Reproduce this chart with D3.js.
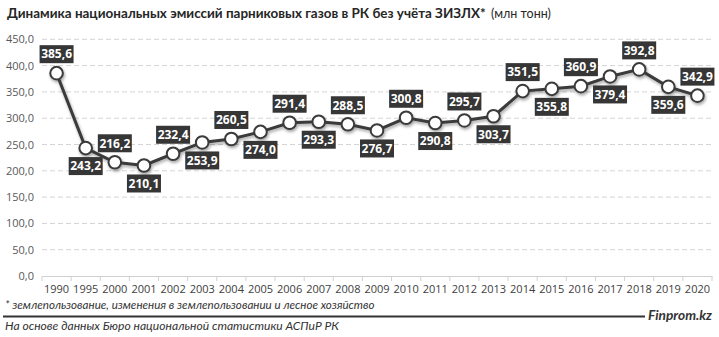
<!DOCTYPE html>
<html><head><meta charset="utf-8">
<script src="https://cdn.jsdelivr.net/npm/d3@7"></script>
<style>body{margin:0;background:#fff;}svg{display:block;}</style>
</head><body>
<script>
const years = ["1990","1995","2000","2001","2002","2003","2004","2005","2006","2007","2008","2009","2010","2011","2012","2013","2014","2015","2016","2017","2018","2019","2020"];
const values = [385.6,243.2,216.2,210.1,232.4,253.9,260.5,274.0,291.4,293.3,288.5,276.7,300.8,290.8,295.7,303.7,351.5,355.8,360.9,379.4,392.8,359.6,342.9];
const yTicks = [0,50,100,150,200,250,300,350,400,450];
const titleBold = "Динамика национальных эмиссий парниковых газов в РК без учёта ЗИЗЛХ*";
const titleNormal = "(млн тонн)";
const footnote = "* землепользование, изменения в землепользовании и лесное хозяйство";
const source = "На основе данных Бюро национальной статистики АСПиР РК";
const brand = "Finprom.kz";

const W = 719, H = 337;
const svg = d3.select("body").append("svg").attr("width", W).attr("height", H);
const fmt = v => v.toFixed(1).replace(".", ",");
const font = "'Open Sans', sans-serif";
const font2 = "Lato, 'Open Sans', sans-serif";

function fit(sel, target) {
  const s = +sel.attr("font-size");
  const w = sel.node().getComputedTextLength();
  sel.attr("font-size", (s * target / w).toFixed(2));
  return sel;
}

const x = d3.scaleBand().domain(years).range([42, 712]);
const y = d3.scaleLinear().domain([0, 450]).range([276, 39.3]);

const defs = svg.append("defs");
const f = defs.append("filter").attr("id","sh").attr("x","-20%").attr("y","-20%").attr("width","140%").attr("height","160%");
f.append("feDropShadow").attr("dx",1).attr("dy",2).attr("stdDeviation",1.6).attr("flood-color","#000").attr("flood-opacity",0.35);

// title
fit(svg.append("text").attr("x", 7).attr("y", 18).attr("font-family", font2).attr("font-size", 14).attr("font-weight", 700)
  .attr("fill", "#262626").text(titleBold), 479);
fit(svg.append("text").attr("x", 491).attr("y", 18).attr("font-family", font2).attr("font-size", 14).attr("font-weight", 400)
  .attr("fill", "#262626").text(titleNormal), 60);

// grid
svg.append("g").selectAll("line").data(yTicks.filter(d => d > 0)).join("line")
  .attr("x1", 42).attr("x2", 712).attr("y1", d => y(d)).attr("y2", d => y(d))
  .attr("stroke", "#d4d4d4").attr("stroke-width", 1).attr("stroke-dasharray", "5,3");

// y axis labels
const yAxis = svg.append("g").attr("transform", "translate(34,0)")
  .call(d3.axisLeft(y).tickValues(yTicks).tickFormat(fmt).tickSize(0).tickPadding(0));
yAxis.select(".domain").remove();
yAxis.selectAll("text").attr("font-family", font).attr("font-size", 11).attr("fill", "#595959");

// x axis
const xAxis = svg.append("g").attr("transform", "translate(0,276)")
  .call(d3.axisBottom(x).tickSize(0).tickPadding(9));
xAxis.select(".domain").attr("stroke", "#d0d0d0");
xAxis.selectAll("text").attr("font-family", font).attr("font-size", 11).attr("fill", "#404040");
xAxis.append("g").selectAll("line").data(years.concat(["end"])).join("line")
  .attr("x1", (d,i) => 42 + i * x.step()).attr("x2", (d,i) => 42 + i * x.step())
  .attr("y1", 0).attr("y2", 5).attr("stroke", "#d0d0d0");

// line
const line = d3.line().x((d,i) => x(years[i]) + x.bandwidth()/2).y(d => y(d));
const g = svg.append("g").attr("filter", "url(#sh)");
g.append("path").datum(values).attr("d", line).attr("fill", "none").attr("stroke", "#3a3a3a").attr("stroke-width", 3);
g.selectAll("circle").data(values).join("circle")
  .attr("cx", (d,i) => x(years[i]) + x.bandwidth()/2).attr("cy", d => y(d)).attr("r", 6.3)
  .attr("fill", "#fff").attr("stroke", "#3a3a3a").attr("stroke-width", 2);

// labels
const lg = svg.append("g");
values.forEach((v, i) => {
  const cx = x(years[i]) + x.bandwidth()/2;
  const cy = y(v) + (i % 2 === 0 ? -19 : 18);
  const bw = 34, bh = 18;
  lg.append("rect").attr("x", cx - bw/2).attr("y", cy - bh/2).attr("width", bw).attr("height", bh).attr("fill", "#363636");
  lg.append("text").attr("x", cx).attr("y", cy + 4.3).attr("text-anchor", "middle")
    .attr("font-family", font).attr("font-size", 12).attr("font-weight", 700).attr("fill", "#fff").text(fmt(v));
});

// footer
fit(svg.append("text").attr("x", 5).attr("y", 309).attr("font-family", font2).attr("font-style", "italic")
  .attr("font-size", 12).attr("fill", "#333").text(footnote), 370);
svg.append("line").attr("x1", 3).attr("x2", 645).attr("y1", 316.5).attr("y2", 316.5).attr("stroke", "#333").attr("stroke-width", 2);
fit(svg.append("text").attr("x", 712).attr("y", 320).attr("text-anchor", "end").attr("font-family", font2).attr("font-style", "italic")
  .attr("font-weight", 700).attr("font-size", 15).attr("fill", "#333").text(brand), 64);
fit(svg.append("text").attr("x", 5).attr("y", 330).attr("font-family", font2).attr("font-style", "italic")
  .attr("font-size", 12).attr("fill", "#333").text(source), 334);
</script>
</body></html>
